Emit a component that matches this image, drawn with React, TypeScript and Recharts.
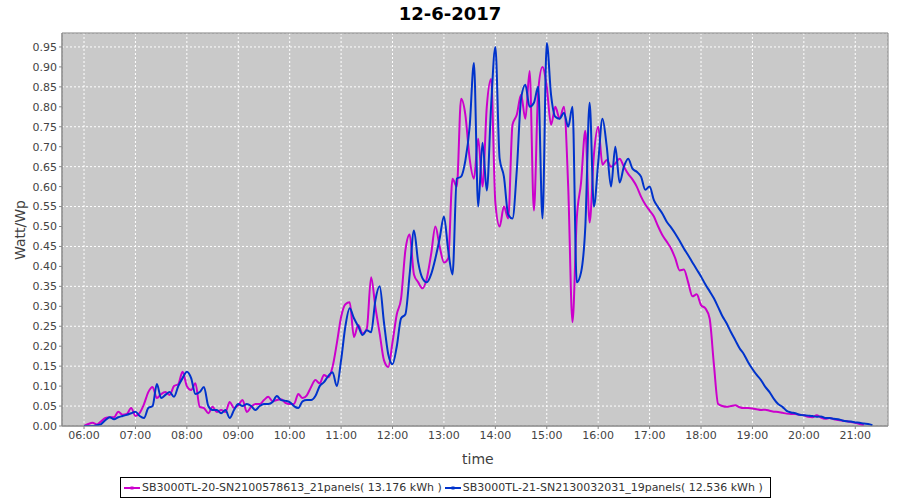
import React from "react";
import { LineChart, Line, XAxis, YAxis, CartesianGrid, ReferenceArea } from "recharts";

// samples every 5 minutes, starting at 06:00
const START_MIN = 360;
const STEP_MIN = 5;

const sb20 = [
  0.0, 0.005, 0.008, 0.004, 0.012, 0.02, 0.022, 0.022, 0.036, 0.028, 0.03, 0.045,
  0.025, 0.033, 0.055, 0.085, 0.098, 0.07, 0.08, 0.085, 0.078, 0.1, 0.105, 0.136,
  0.1, 0.09, 0.107, 0.048, 0.045, 0.032, 0.048, 0.035, 0.04, 0.035, 0.06, 0.045,
  0.052, 0.065, 0.035, 0.048, 0.055, 0.055, 0.065, 0.073, 0.062, 0.065, 0.067, 0.058,
  0.055, 0.055, 0.08, 0.07, 0.077, 0.098, 0.115, 0.107, 0.128, 0.122, 0.148, 0.207,
  0.273, 0.305, 0.31, 0.223, 0.253, 0.232, 0.244, 0.373, 0.298, 0.232, 0.165, 0.148,
  0.21, 0.28, 0.32, 0.44, 0.48, 0.38, 0.36, 0.345, 0.37, 0.43, 0.5, 0.45,
  0.41, 0.42, 0.62, 0.6, 0.82, 0.78, 0.67, 0.62, 0.72, 0.6, 0.8, 0.87,
  0.56, 0.5, 0.55, 0.52, 0.755, 0.78, 0.83, 0.77, 0.89, 0.54, 0.84, 0.9,
  0.85, 0.755, 0.8, 0.77, 0.8, 0.6, 0.26, 0.52, 0.61, 0.74, 0.51, 0.68,
  0.75, 0.655, 0.667, 0.65, 0.658, 0.67, 0.65, 0.632, 0.618, 0.6, 0.575, 0.555,
  0.54, 0.525, 0.5, 0.478, 0.462, 0.445, 0.42, 0.39, 0.392, 0.36, 0.325, 0.33,
  0.303, 0.295, 0.27, 0.155, 0.055, 0.05, 0.048, 0.05, 0.052, 0.047, 0.045, 0.045,
  0.044, 0.042, 0.04, 0.041, 0.038, 0.036, 0.035, 0.033, 0.031, 0.03, 0.03, 0.028,
  0.027, 0.023, 0.022, 0.027, 0.021, 0.018, 0.02, 0.017, 0.015, 0.013, 0.012, 0.01,
  0.008, 0.005, 0.002,
];

const sb21 = [
  0.0, 0.0, 0.0, 0.002, 0.005, 0.015, 0.022, 0.017, 0.022, 0.025, 0.028, 0.032,
  0.036, 0.025, 0.02, 0.045, 0.05, 0.105, 0.07, 0.078, 0.085, 0.073, 0.1, 0.12,
  0.136, 0.12, 0.08, 0.085, 0.098, 0.05, 0.04, 0.04, 0.032, 0.04, 0.02, 0.04,
  0.055, 0.05, 0.055, 0.05, 0.04, 0.05, 0.055, 0.055, 0.06, 0.075, 0.065, 0.063,
  0.06, 0.05, 0.045, 0.062, 0.065, 0.065, 0.075, 0.1, 0.11, 0.125, 0.135, 0.1,
  0.165, 0.25, 0.295, 0.27, 0.25, 0.228, 0.24, 0.235, 0.315, 0.35, 0.26, 0.18,
  0.155, 0.2, 0.27, 0.28, 0.38, 0.49, 0.41, 0.37, 0.36, 0.38, 0.42, 0.47,
  0.525, 0.44, 0.38, 0.62, 0.625, 0.665, 0.75, 0.91, 0.55, 0.71, 0.59, 0.8,
  0.95, 0.67, 0.625, 0.53, 0.52, 0.64, 0.82, 0.855, 0.8, 0.81, 0.85, 0.52,
  0.96, 0.83, 0.775, 0.77, 0.785, 0.75, 0.8, 0.36, 0.385, 0.5, 0.81, 0.55,
  0.66, 0.77, 0.7, 0.6, 0.7, 0.61, 0.65, 0.67, 0.645, 0.637, 0.625, 0.592,
  0.6, 0.566, 0.548, 0.532, 0.512, 0.498, 0.482, 0.464, 0.445, 0.428, 0.41, 0.392,
  0.375, 0.355, 0.338, 0.32, 0.298, 0.275, 0.257, 0.235, 0.215, 0.195, 0.18, 0.16,
  0.143, 0.128, 0.115, 0.098, 0.085, 0.068, 0.055, 0.048, 0.038, 0.034, 0.032, 0.028,
  0.027, 0.026, 0.025, 0.023, 0.024, 0.02, 0.02, 0.018, 0.017, 0.014, 0.012, 0.011,
  0.009, 0.008, 0.006, 0.005, 0.002,
];

const xTicks = [360, 420, 480, 540, 600, 660, 720, 780, 840, 900, 960, 1020, 1080, 1140, 1200, 1260];
const yTicks = [
  0, 0.05, 0.1, 0.15, 0.2, 0.25, 0.3, 0.35, 0.4, 0.45, 0.5, 0.55, 0.6, 0.65, 0.7, 0.75, 0.8,
  0.85, 0.9, 0.95,
];

const series = [
  { key: "sb20", name: "SB3000TL-20-SN2100578613_21panels( 13.176 kWh )", color: "#cc00cc" },
  { key: "sb21", name: "SB3000TL-21-SN2130032031_19panels( 12.536 kWh )", color: "#0033cc" },
];

const rows = sb21.map((v, i) => ({
  t: START_MIN + i * STEP_MIN,
  sb20: i < sb20.length ? sb20[i] : null,
  sb21: v,
}));

const X_MIN = 334.3;
const X_MAX = 1298.2;
const Y_MAX = 0.985;

const hhmm = (m: number) => {
  const h = Math.floor(m / 60);
  const mm = m % 60;
  return `${String(h).padStart(2, "0")}:${String(mm).padStart(2, "0")}`;
};

const font = "'DejaVu Sans', sans-serif";
const tickStyle = { fontSize: 11, fill: "#444", fontFamily: font };

export default function App() {
  return (
    <div style={{ position: "absolute", left: 0, top: 0, width: 900, height: 500, background: "#fff", fontFamily: font }}>
      <div style={{ position: "absolute", left: 0, top: 3, width: 900, textAlign: "center", fontSize: 18, fontWeight: "bold", color: "#000" }}>
        12-6-2017
      </div>

      <LineChart width={900} height={500} data={rows} margin={{ top: 33, right: 12, bottom: 0, left: 0 }}>
        <CartesianGrid fill="#c9c9c9" stroke="#ffffff" strokeDasharray="2 2" verticalPoints={undefined} />
        <XAxis
          dataKey="t"
          type="number"
          domain={[X_MIN, X_MAX]}
          allowDataOverflow
          ticks={xTicks}
          tickFormatter={hhmm}
          height={74}
          tick={tickStyle}
          tickSize={3}
          stroke="#888"
        />
        <YAxis
          type="number"
          domain={[0, Y_MAX]}
          allowDataOverflow
          ticks={yTicks}
          tickFormatter={(v) => Number(v).toFixed(2)}
          width={62}
          tick={tickStyle}
          tickSize={3}
          stroke="#888"
        />
        <ReferenceArea x1={X_MIN} x2={X_MAX} y1={0} y2={Y_MAX} fill="none" stroke="#808080" strokeWidth={1} ifOverflow="visible" />
        {series.map((s) => (
          <Line
            key={s.key}
            dataKey={s.key}
            name={s.name}
            type="monotone"
            stroke={s.color}
            strokeWidth={2}
            dot={false}
            connectNulls={false}
            isAnimationActive={false}
          />
        ))}
      </LineChart>

      <div style={{ position: "absolute", left: 462, top: 451, width: 30, textAlign: "center", fontSize: 14, color: "#404040" }}>time</div>
      <div
        style={{
          position: "absolute",
          left: 20,
          top: 230,
          fontSize: 14,
          color: "#404040",
          transform: "translate(-50%, -50%) rotate(-90deg)",
          whiteSpace: "nowrap",
        }}
      >
        Watt/Wp
      </div>

      <div
        style={{
          position: "absolute",
          left: 120,
          top: 477,
          height: 19,
          border: "1px solid #000",
          display: "flex",
          alignItems: "center",
          paddingLeft: 3,
          paddingRight: 4,
          fontSize: 11,
          color: "#333",
          whiteSpace: "nowrap",
        }}
      >
        {series.map((s) => (
          <span key={s.key} style={{ display: "flex", alignItems: "center", marginRight: 3 }}>
            <svg width={16} height={8} style={{ marginRight: 2 }}>
              <line x1={0} y1={4} x2={16} y2={4} stroke={s.color} strokeWidth={2} />
              <rect x={6.5} y={2.5} width={3} height={3} fill={s.color} />
            </svg>
            {s.name}
          </span>
        ))}
      </div>
    </div>
  );
}
